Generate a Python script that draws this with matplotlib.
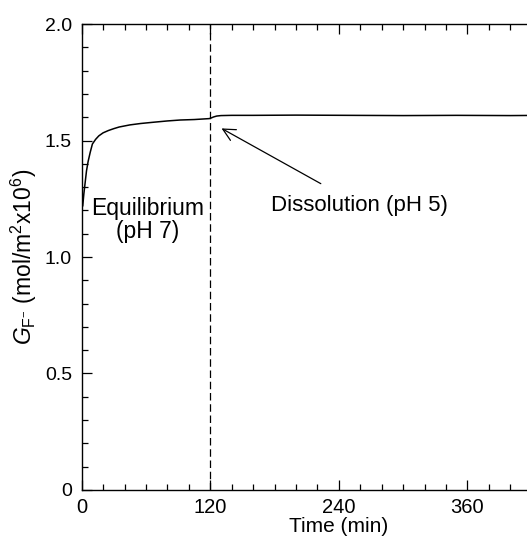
import numpy as np
import matplotlib.pyplot as plt
from matplotlib.ticker import MultipleLocator

plt.rcParams['font.family'] = ['Liberation Sans', 'DejaVu Sans']
plt.rcParams['mathtext.fontset'] = 'custom'
plt.rcParams['mathtext.rm'] = 'Liberation Sans'
plt.rcParams['mathtext.it'] = 'Liberation Sans:italic'

# adsorbed fluoride vs time (equilibrium at pH 7, then dissolution at pH 5)
time_min = [1, 2, 3, 4.5, 6, 8, 10, 13, 16, 20, 25, 30, 35, 45, 55, 66,
            80, 92, 105, 112, 119, 121, 123, 126, 130, 140, 160, 200,
            250, 300, 350, 400, 430]
gamma_f = [1.22, 1.27, 1.31, 1.37, 1.41, 1.45, 1.485, 1.505, 1.52, 1.533,
           1.543, 1.551, 1.558, 1.567, 1.573, 1.578, 1.584, 1.588, 1.590,
           1.592, 1.594, 1.597, 1.601, 1.605, 1.607, 1.608, 1.608, 1.609,
           1.608, 1.607, 1.608, 1.607, 1.608]

switch_time = 120

fig = plt.figure(figsize=(5.27, 5.41), dpi=100)
ax = fig.add_axes([0.155, 0.0943, 0.976, 0.8613])

ax.plot(time_min, gamma_f, color='black', lw=1.1)
ax.axvline(switch_time, color='black', lw=0.9, ls=(0, (6, 3)))

ax.set_xlim(0, 480)
ax.set_ylim(0, 2.0)
ax.xaxis.set_major_locator(MultipleLocator(120))
ax.xaxis.set_minor_locator(MultipleLocator(20))
ax.yaxis.set_major_locator(MultipleLocator(0.5))
ax.yaxis.set_minor_locator(MultipleLocator(0.1))
ax.xaxis.set_major_formatter(lambda v, p: '' if v > 400 else f'{v:.0f}')
ax.yaxis.set_major_formatter(lambda v, p: '0' if v == 0 else f'{v:.1f}')

ax.tick_params(which='both', direction='in', top=True, right=True, width=0.9)
ax.tick_params(which='major', length=7)
ax.tick_params(which='minor', length=4)
ax.tick_params(axis='x', labelsize=14.5, pad=6)
ax.tick_params(axis='y', labelsize=14, pad=7)
for s in ax.spines.values():
    s.set_linewidth(1.0)

ax.set_xlabel('Time (min)', fontsize=15, labelpad=-0.5)
ax.set_ylabel(r'$G_{\mathrm{F}^{-}}$ (mol/m$^2$x10$^6$)', fontsize=16.5,
              labelpad=4)

ax.text(62, 1.16, 'Equilibrium\n(pH 7)', fontsize=16.5, ha='center',
        va='center', multialignment='center', linespacing=1.0)
ax.annotate('Dissolution (pH 5)', xy=(130.5, 1.552), xytext=(259, 1.223),
            fontsize=16, ha='center', va='center',
            arrowprops=dict(arrowstyle='->', color='black', lw=0.9,
                            mutation_scale=22, shrinkA=12, shrinkB=0))

fig.savefig('out.png', dpi=100)
